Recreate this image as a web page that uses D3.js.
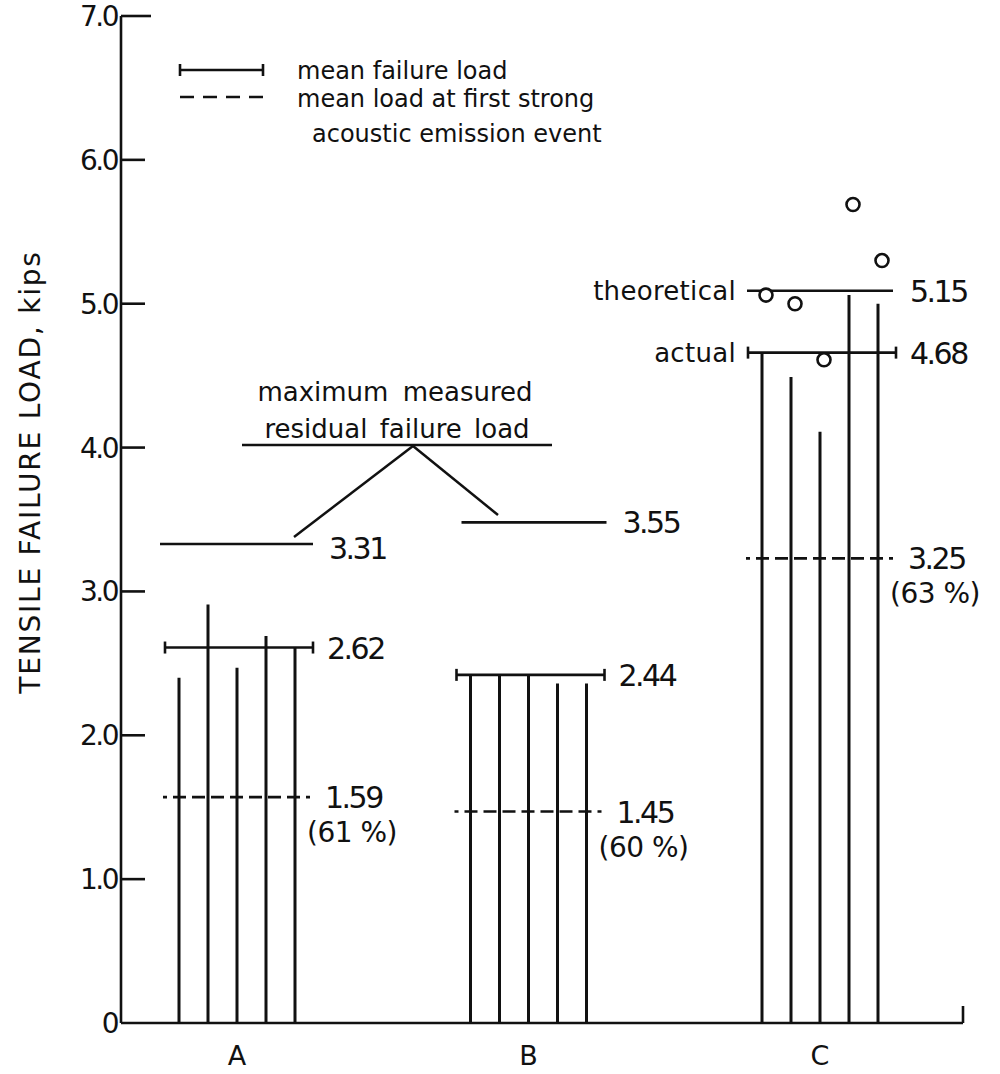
<!DOCTYPE html>
<html>
<head>
<meta charset="utf-8">
<script src="https://cdn.jsdelivr.net/npm/d3@7"></script>
<style>
  html, body { margin: 0; padding: 0; background: #fff; }
  svg text { font-family: "DejaVu Sans", sans-serif; fill: #111; }
</style>
</head>
<body>
<svg id="chart" width="1000" height="1074"></svg>
<script>
// ---------------- data ----------------
const categories = ["A", "B", "C"];
const yTickValues = [0, 1, 2, 3, 4, 5, 6, 7];
const yTickLabels = ["0", "1.0", "2.0", "3.0", "4.0", "5.0", "6.0", "7.0"];

// individual specimen failure loads (vertical lines), 5 per group
const specimensA = [2.40, 2.91, 2.47, 2.69, 2.61];
const specimensB = [2.42, 2.42, 2.42, 2.36, 2.36];
const specimensC = [4.66, 4.49, 4.11, 5.06, 5.00];

// mean failure load (solid line with end caps)
const meanFailure = [2.61, 2.42, 4.66];
const meanFailureLabels = ["2.62", "2.44", "4.68"];

// mean load at first strong acoustic emission event (dashed)
const meanAE = [1.57, 1.47, 3.23];
const meanAELabels = ["1.59", "1.45", "3.25"];
const meanAEPercent = ["(61 %)", "(60 %)", "(63 %)"];

// maximum measured residual failure load (groups A, B)
const maxResidualCats = ["A", "B"];
const maxResidual = [3.33, 3.48];
const maxResidualLabels = ["3.31", "3.55"];

// group C theoretical load and individual theoretical points
const theoreticalC = 5.09;
const theoreticalCLabel = "5.15";
const theoreticalPointsC = [5.06, 5.00, 4.61, 5.69, 5.30];

// ---------------- layout ----------------
const svg = d3.select("#chart");
const axisX0 = 121, axisX1 = 963;
const y = d3.scaleLinear().domain([0, 7]).range([1023, 16]);
const x = d3.scalePoint().domain(categories).range([237, 820]);
const sx = d3.scalePoint().domain([0, 1, 2, 3, 4]).range([-58, 58]);

const ink = "#111";
const sw = 2.6;
const numFont = 30, numLS = -2.5;

// y axis
svg.append("line").attr("x1", axisX0).attr("x2", axisX0)
  .attr("y1", y(0)).attr("y2", y(7)).attr("stroke", ink).attr("stroke-width", sw);
// x axis
svg.append("line").attr("x1", axisX0).attr("x2", axisX1)
  .attr("y1", y(0)).attr("y2", y(0)).attr("stroke", ink).attr("stroke-width", sw);
svg.append("line").attr("x1", axisX1).attr("x2", axisX1)
  .attr("y1", y(0)).attr("y2", y(0) - 17).attr("stroke", ink).attr("stroke-width", sw);

// y ticks
const ticks = svg.append("g");
yTickValues.forEach((v, i) => {
  if (v > 0) {
    ticks.append("line").attr("x1", axisX0).attr("x2", axisX0 + (v === 7 ? 30 : 24))
      .attr("y1", y(v)).attr("y2", y(v)).attr("stroke", ink).attr("stroke-width", sw);
  }
  ticks.append("text").attr("x", 117).attr("y", y(v) + 10)
    .attr("text-anchor", "end").attr("font-size", 28)
    .attr("letter-spacing", -2.5)
    .text(yTickLabels[i]);
});

// y title
svg.append("text")
  .attr("transform", `translate(40, ${y(3.83)}) rotate(-90)`)
  .attr("text-anchor", "middle").attr("font-size", 28)
  .attr("letter-spacing", 1.8)
  .text("TENSILE FAILURE LOAD, kips");

// category labels
categories.forEach(c => {
  svg.append("text").attr("x", x(c)).attr("y", 1065)
    .attr("text-anchor", "middle").attr("font-size", 27).text(c);
});

// specimen lines
const specimenSets = [specimensA, specimensB, specimensC];
categories.forEach((c, ci) => {
  specimenSets[ci].forEach((v, i) => {
    svg.append("line")
      .attr("x1", x(c) + sx(i)).attr("x2", x(c) + sx(i))
      .attr("y1", y(0)).attr("y2", y(v))
      .attr("stroke", ink).attr("stroke-width", 3);
  });
});

// mean failure lines with caps
categories.forEach((c, ci) => {
  const xl = x(c) + sx(0) - 14, xr = x(c) + sx(4) + 18;
  const yy = y(meanFailure[ci]);
  svg.append("line").attr("x1", xl).attr("x2", xr).attr("y1", yy).attr("y2", yy)
    .attr("stroke", ink).attr("stroke-width", sw);
  [xl, xr].forEach(xx => svg.append("line").attr("x1", xx).attr("x2", xx)
    .attr("y1", yy - 6).attr("y2", yy + 6).attr("stroke", ink).attr("stroke-width", sw));
  svg.append("text").attr("x", xr + 14).attr("y", yy + 11)
    .attr("font-size", numFont).attr("letter-spacing", numLS).text(meanFailureLabels[ci]);
});

// mean AE dashed lines
categories.forEach((c, ci) => {
  const xl = x(c) + sx(0) - 16, xr = x(c) + sx(4) + 18;
  const yy = y(meanAE[ci]);
  svg.append("line").attr("x1", xl).attr("x2", xr).attr("y1", yy).attr("y2", yy)
    .attr("stroke", ink).attr("stroke-width", sw)
    .attr("stroke-dasharray", "4,6,13,6,13,6,13,6,13,6,13,6,13,6,13,6,4");
  svg.append("text").attr("x", xr + 12).attr("y", yy + 11)
    .attr("font-size", numFont).attr("letter-spacing", numLS).text(meanAELabels[ci]);
  svg.append("text").attr("x", xr - 6).attr("y", yy + 45)
    .attr("font-size", 28).attr("letter-spacing", -0.5).text(meanAEPercent[ci]);
});

// maximum measured residual failure load
const resExt = [[-77, 76], [-67, 78]];
maxResidualCats.forEach((c, i) => {
  const yy = y(maxResidual[i]);
  const xl = x(c) + resExt[i][0], xr = x(c) + resExt[i][1];
  svg.append("line").attr("x1", xl).attr("x2", xr).attr("y1", yy).attr("y2", yy)
    .attr("stroke", ink).attr("stroke-width", sw);
  svg.append("text").attr("x", xr + 16).attr("y", yy + (i === 0 ? 15 : 11))
    .attr("font-size", numFont).attr("letter-spacing", numLS).text(maxResidualLabels[i]);
});
svg.append("text").attr("x", 395).attr("y", 401).attr("text-anchor", "middle")
  .attr("font-size", 26).attr("word-spacing", 6).text("maximum measured");
svg.append("text").attr("x", 397).attr("y", 438).attr("text-anchor", "middle")
  .attr("font-size", 26).attr("word-spacing", 4).text("residual failure load");
svg.append("line").attr("x1", 242).attr("x2", 552).attr("y1", 445).attr("y2", 445)
  .attr("stroke", ink).attr("stroke-width", 2.5);
svg.append("line").attr("x1", 413).attr("x2", 294).attr("y1", 446).attr("y2", 537)
  .attr("stroke", ink).attr("stroke-width", 2.5);
svg.append("line").attr("x1", 413).attr("x2", 498).attr("y1", 446).attr("y2", 515)
  .attr("stroke", ink).attr("stroke-width", 2.5);

// group C theoretical line and points
const cx = x("C");
const thY = y(theoreticalC);
svg.append("line").attr("x1", cx - 73).attr("x2", cx + 73).attr("y1", thY).attr("y2", thY)
  .attr("stroke", ink).attr("stroke-width", sw);
svg.append("text").attr("x", cx + 90).attr("y", thY + 11)
  .attr("font-size", numFont).attr("letter-spacing", numLS).text(theoreticalCLabel);
svg.append("text").attr("x", 736).attr("y", thY + 9).attr("text-anchor", "end")
  .attr("font-size", 26).attr("letter-spacing", 0.3).text("theoretical");
svg.append("text").attr("x", 736).attr("y", y(meanFailure[2]) + 9).attr("text-anchor", "end")
  .attr("font-size", 26).attr("letter-spacing", 0.3).text("actual");
theoreticalPointsC.forEach((v, i) => {
  svg.append("circle").attr("cx", cx + sx(i) + 4).attr("cy", y(v)).attr("r", 6.5)
    .attr("fill", "#fff").attr("stroke", ink).attr("stroke-width", 2.6);
});

// legend
svg.append("line").attr("x1", 180).attr("x2", 263).attr("y1", 70).attr("y2", 70)
  .attr("stroke", ink).attr("stroke-width", sw);
[180, 263].forEach(xx => svg.append("line").attr("x1", xx).attr("x2", xx)
  .attr("y1", 64).attr("y2", 76).attr("stroke", ink).attr("stroke-width", sw));
svg.append("text").attr("x", 297).attr("y", 79).attr("font-size", 24).text("mean failure load");
svg.append("line").attr("x1", 180).attr("x2", 263).attr("y1", 97).attr("y2", 97)
  .attr("stroke", ink).attr("stroke-width", sw).attr("stroke-dasharray", "14,9");
svg.append("text").attr("x", 297).attr("y", 107).attr("font-size", 24).text("mean load at first strong");
svg.append("text").attr("x", 312).attr("y", 142).attr("font-size", 24).text("acoustic emission event");
</script>
</body>
</html>
